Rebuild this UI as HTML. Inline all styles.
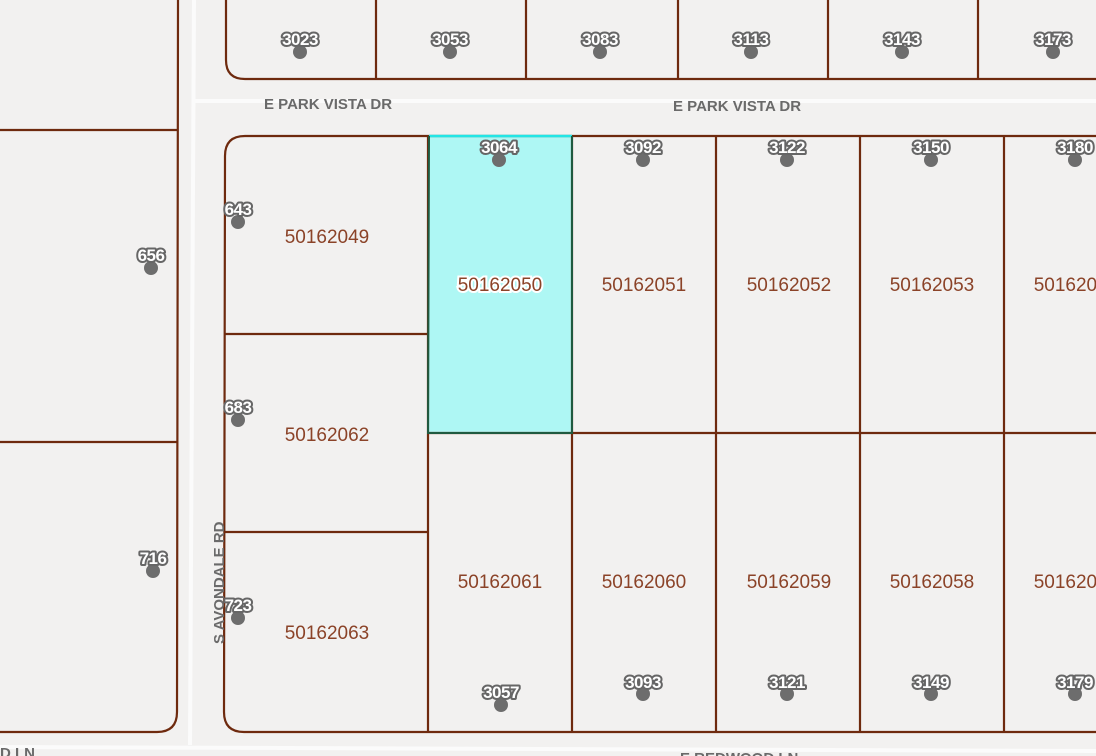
<!DOCTYPE html>
<html><head><style>
body{margin:0;background:#f2f1f0;}
svg{display:block}
.a{font-family:"Liberation Sans",sans-serif;font-size:17px;font-weight:bold;fill:#fff;stroke:#666;stroke-width:4px;stroke-linejoin:round;paint-order:stroke;text-anchor:middle;letter-spacing:-0.5px}
.p{font-family:"Liberation Sans",sans-serif;font-size:19px;fill:#8b4328;text-anchor:middle}
.r{font-family:"Liberation Sans",sans-serif;font-size:15px;font-weight:bold;fill:#6a6a6a}
.l{stroke:#6e2a0e;stroke-width:2.2;fill:none}
</style></head><body>
<svg width="1096" height="756" viewBox="0 0 1096 756">
<rect width="1096" height="756" fill="#f2f1f0"/>
<path d="M194 0 L190 745" stroke="#fbfbfb" stroke-width="4"/>
<path d="M194 101 L1096 101" stroke="#fbfbfb" stroke-width="4"/>
<path d="M0 747 L1096 751" stroke="#fbfbfb" stroke-width="4"/>
<rect x="429" y="136" width="143" height="297" fill="#aef7f4"/>
<path class="l" d="M226 0 L226 60 Q226 79 245 79 L1096 79"/>
<path class="l" d="M376 0V79M526 0V79M678 0V79M828 0V79M978 0V79"/>
<path class="l" d="M1096 136 L245 136 Q225 136 225 156 L224 712 Q224 732 244 732 L1096 732"/>
<path class="l" d="M428 136V732M572 136V732M716 136V732M860 136V732M1004 136V732"/>
<path class="l" d="M428 433H1096M225 334H428M225 532H428"/>
<path d="M429 136H572" stroke="#22e5e5" stroke-width="2.5"/>
<path d="M429 136 L428 433 L572 433 L572 136" stroke="#1f5a40" stroke-width="2" fill="none"/>
<path class="l" d="M0 130H178M0 442H178M178 0 L177 712 Q177 732 157 732 L0 732"/>
<text class="r" x="264" y="109">E PARK VISTA DR</text>
<text class="r" x="673" y="111">E PARK VISTA DR</text>
<text class="r" transform="translate(224,644) rotate(-90)">S AVONDALE RD</text>
<text class="r" x="0" y="758">D LN</text>
<text class="r" x="680" y="763">E REDWOOD LN</text>
<text class="p" x="500" y="291" stroke="#fff" stroke-width="4" fill="#fff">50162050</text>
<g class="p">
<text x="327" y="243">50162049</text>
<text x="500" y="291">50162050</text>
<text x="644" y="291">50162051</text>
<text x="789" y="291">50162052</text>
<text x="932" y="291">50162053</text>
<text x="1076" y="291">50162054</text>
<text x="327" y="441">50162062</text>
<text x="327" y="639">50162063</text>
<text x="500" y="588">50162061</text>
<text x="644" y="588">50162060</text>
<text x="789" y="588">50162059</text>
<text x="932" y="588">50162058</text>
<text x="1076" y="588">50162057</text>
</g>
<g fill="#6d6d6d">
<circle cx="300" cy="52" r="7"/><circle cx="450" cy="52" r="7"/><circle cx="600" cy="52" r="7"/><circle cx="751" cy="52" r="7"/><circle cx="902" cy="52" r="7"/><circle cx="1053" cy="52" r="7"/>
<circle cx="499" cy="160" r="7"/><circle cx="643" cy="160" r="7"/><circle cx="787" cy="160" r="7"/><circle cx="931" cy="160" r="7"/><circle cx="1075" cy="160" r="7"/>
<circle cx="238" cy="222" r="7"/><circle cx="238" cy="420" r="7"/><circle cx="238" cy="618" r="7"/>
<circle cx="151" cy="268" r="7"/><circle cx="153" cy="571" r="7"/>
<circle cx="501" cy="705" r="7"/><circle cx="643" cy="694" r="7"/><circle cx="787" cy="694" r="7"/><circle cx="931" cy="694" r="7"/><circle cx="1075" cy="694" r="7"/>
</g>
<g class="a">
<text x="300" y="45">3023</text><text x="450" y="45">3053</text><text x="600" y="45">3083</text><text x="751" y="45">3113</text><text x="902" y="45">3143</text><text x="1053" y="45">3173</text>
<text x="499" y="153">3064</text><text x="643" y="153">3092</text><text x="787" y="153">3122</text><text x="931" y="153">3150</text><text x="1075" y="153">3180</text>
<text x="238" y="215">643</text><text x="238" y="413">683</text><text x="238" y="611">723</text>
<text x="151" y="261">656</text><text x="153" y="564">716</text>
<text x="501" y="698">3057</text><text x="643" y="688">3093</text><text x="787" y="688">3121</text><text x="931" y="688">3149</text><text x="1075" y="688">3179</text>
</g>
</svg>
</body></html>
